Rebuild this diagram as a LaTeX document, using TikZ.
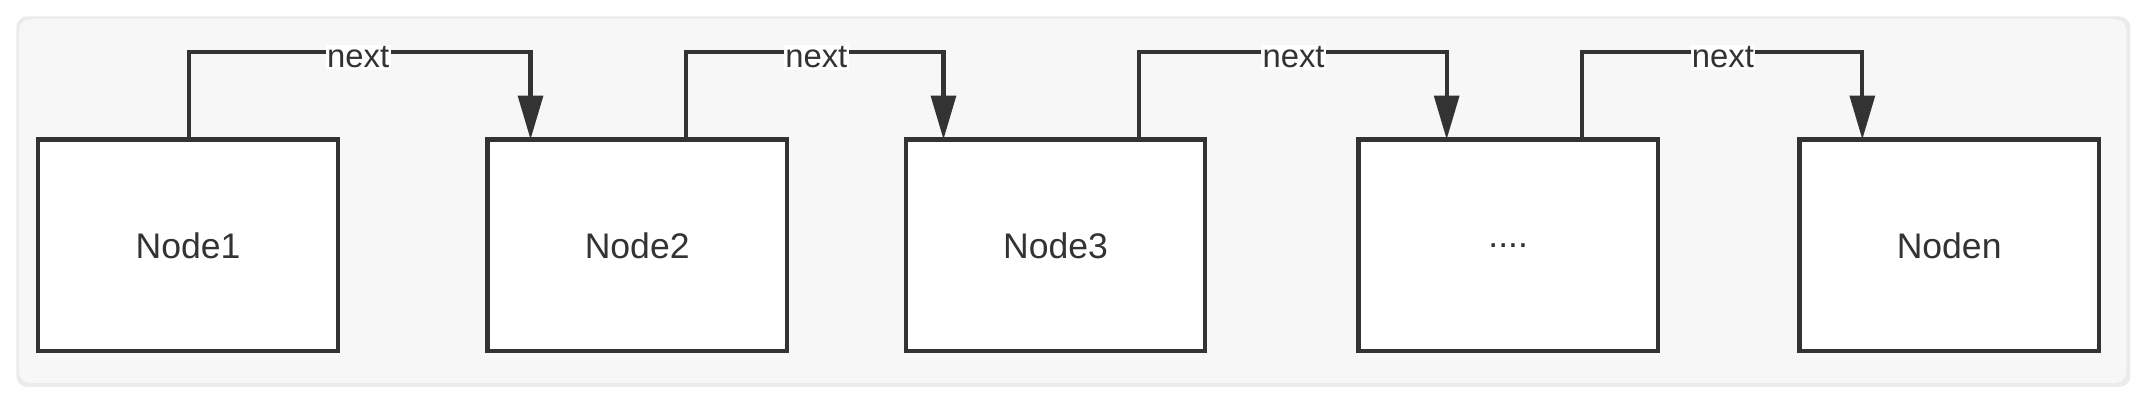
\documentclass[tikz,border=0pt]{standalone}
\usepackage{fontspec}
\setmainfont{Liberation Sans}
\usetikzlibrary{arrows.meta}
\definecolor{ln}{HTML}{333333}
\begin{document}
\begin{tikzpicture}[x=1pt,y=-1pt,
  box/.style={draw=ln,line width=3pt,fill=white,minimum width=219pt,minimum height=155pt,inner sep=0pt,font=\fontsize{26}{30}\selectfont,text=ln},
  link/.style={draw=ln,line width=3pt,-{Triangle[length=32pt,width=18pt]}},
  lbl/.style={fill=white,inner sep=1pt,font=\fontsize{24}{28}\selectfont,text=ln}]
\useasboundingbox (0,0) rectangle (1568,292.5);
\fill[black!8,rounded corners=8pt] (12,12) rectangle (1558,283);
\fill[white!97!black,rounded corners=8pt] (14,14) rectangle (1555,280);
\node[box] (n1) at (137.5,179.5) {Node1};
\node[box] (n2) at (466,179.5) {Node2};
\node[box] (n3) at (772,179.5) {Node3};
\node[box] (n4) at (1103,179.5) {....};
\node[box] (n5) at (1425.5,179.5) {Noden};
\foreach \a/\b/\s/\t/\m in {n1/n2/138/388/262,n2/n3/502/690/597,n3/n4/833/1058/946,n4/n5/1157/1362/1260}{
  \coordinate (s\a) at (\s,102);
  \coordinate (u\a) at (\s,38);
  \coordinate (v\a) at (\t,38);
  \coordinate (e\a) at (\t,102);
  \draw[link] (s\a) -- (u\a) -- (v\a) -- (e\a);
  \node[lbl] (l\a) at (\m,42) {next};
}
\end{tikzpicture}
\end{document}
